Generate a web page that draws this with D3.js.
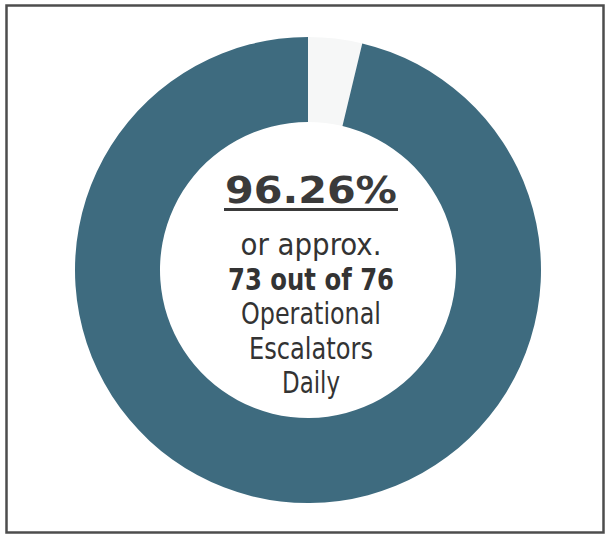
<!DOCTYPE html>
<html>
<head>
<meta charset="utf-8">
<script src="https://cdn.jsdelivr.net/npm/d3@7"></script>
<style>
  body { margin: 0; background: #fff; }
  svg { display: block; }
</style>
</head>
<body>
<div id="chart"></div>
<script>
// escalator availability, share of the day
const labels = ["Not operational", "Operational"];
const shares = [3.74, 96.26];
const colors = ["#f6f7f7", "#3e6b7f"];

const headline = "96.26%";
const lines = [
  {text: "or approx.", bold: false},
  {text: "73 out of 76", bold: true},
  {text: "Operational", bold: false},
  {text: "Escalators", bold: false},
  {text: "Daily", bold: false}
];
// measured widths of each text line in the reference
const lineWidths = [141, 166, 140, 124, 58];

const width = 606, height = 535;
const cx = 308, cy = 270;
const outerR = 233, innerR = 148;

let svg = d3.select("#chart")
            .append("svg")
            .attr("width", width)
            .attr("height", height);

// frame
svg.append("rect")
   .attr("x", 6.5).attr("y", 5.5)
   .attr("width", 597).attr("height", 527)
   .attr("fill", "none")
   .attr("stroke", "#4d4d4d")
   .attr("stroke-width", 2.5);

let pie = d3.pie().sort(null).value(d => d.value);
let arc = d3.arc().innerRadius(innerR).outerRadius(outerR);

let data = labels.map((l, i) => ({label: l, value: shares[i], color: colors[i]}));

let g = svg.append("g").attr("transform", `translate(${cx},${cy})`);

g.selectAll("path")
  .data(pie(data))
  .enter()
  .append("path")
  .attr("d", arc)
  .attr("fill", d => d.data.color);

const font = "'DejaVu Sans Condensed', 'DejaVu Sans', Verdana, sans-serif";
const tx = cx + 3;

let title = svg.append("text")
   .attr("x", tx)
   .attr("y", 203)
   .attr("text-anchor", "middle")
   .attr("font-family", font)
   .attr("font-weight", "bold")
   .attr("font-size", 37)
   .attr("fill", "#3a3a3a")
   .attr("textLength", 172)
   .attr("lengthAdjust", "spacingAndGlyphs")
   .text(headline);

let bb = title.node().getBBox();
svg.append("rect")
   .attr("x", tx - 87)
   .attr("y", 208)
   .attr("width", 174)
   .attr("height", 3)
   .attr("fill", "#3a3a3a");

svg.selectAll("text.line")
   .data(lines)
   .enter()
   .append("text")
   .attr("class", "line")
   .attr("x", tx)
   .attr("y", (d, i) => 255 + i * 34.5)
   .attr("text-anchor", "middle")
   .attr("font-family", font)
   .attr("font-weight", d => d.bold ? "bold" : "normal")
   .attr("font-size", 31)
   .attr("fill", "#333")
   .attr("textLength", (d, i) => lineWidths[i])
   .attr("lengthAdjust", "spacingAndGlyphs")
   .text(d => d.text);
</script>
</body>
</html>
